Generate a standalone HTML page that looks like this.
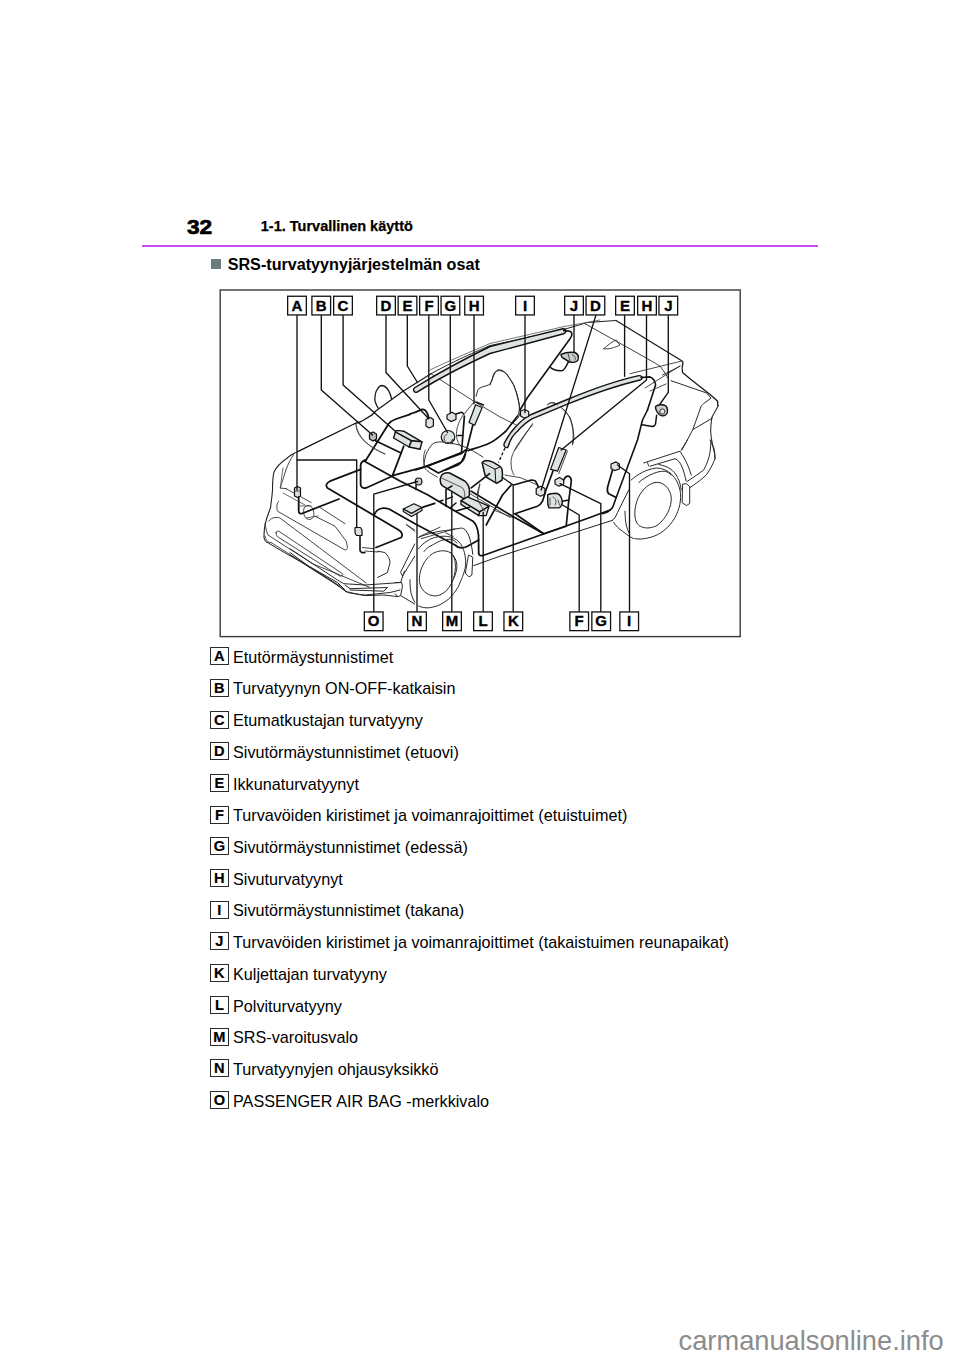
<!DOCTYPE html>
<html><head><meta charset="utf-8"><style>
html,body{margin:0;padding:0;background:#fff;}
body{width:960px;height:1358px;position:relative;overflow:hidden;font-family:"Liberation Sans",sans-serif;color:#000;}
.a{position:absolute;white-space:nowrap;}
.lb{position:absolute;left:210.2px;width:16.4px;height:16px;border:1.1px solid #2a2a2a;font-weight:bold;font-size:14.6px;line-height:17.9px;text-align:center;-webkit-text-stroke:0.2px #000;}
.it{position:absolute;left:233px;font-size:16.2px;line-height:20px;white-space:nowrap;}
</style></head><body>
<div class="a" style="left:187px;top:215px;font-weight:bold;font-size:21px;line-height:24px;transform:scaleX(1.08);transform-origin:0 0;-webkit-text-stroke:0.7px #000;">32</div>
<div class="a" style="left:260.8px;top:216.5px;font-weight:bold;font-size:14.5px;line-height:18px;-webkit-text-stroke:0.25px #000;">1-1. Turvallinen käyttö</div>
<div class="a" style="left:142px;top:244.5px;width:676px;height:2.2px;background:#c44cfb;"></div>
<div class="a" style="left:210.7px;top:258.6px;width:10.4px;height:10.2px;background:#6b7d7c;"></div>
<div class="a" style="left:227.7px;top:253.5px;font-weight:bold;font-size:16.15px;line-height:20px;">SRS-turvatyynyjärjestelmän osat</div>
<svg class="a" style="left:0;top:0" width="960" height="1358" viewBox="0 0 960 1358">
<rect x="220.2" y="290" width="520" height="346.6" fill="none" stroke="#3a3a3a" stroke-width="1.4"/>
<path d="M298.7,451.2 L355,423.5" fill="none" stroke="#111" stroke-width="1.35" stroke-linejoin="round" stroke-linecap="round"/>
<path d="M298.7,451.2 C294,453 289,456 286,459 C280,463 276,468 274,472 C272.5,478 272.5,485 272.5,490 C272,497 271,503 270.6,507.5 C269,512 267,517 266,521 C264.5,526 264,532 264,537.5 C264.5,540 266,542 267.5,542.5" fill="none" stroke="#222" stroke-width="1.1" stroke-linejoin="round" stroke-linecap="round"/>
<path d="M294.4,453 C290,460 286,468 284,476 C282,482 281,486 280,488 L286.5,488.7" fill="none" stroke="#333" stroke-width="0.9" stroke-linejoin="round" stroke-linecap="round"/>
<path d="M283,468 C282,474 281,482 280.5,488" fill="none" stroke="#444" stroke-width="0.8" stroke-linejoin="round" stroke-linecap="round"/>
<path d="M286,488.7 L311.2,502.5" fill="none" stroke="#333" stroke-width="0.9" stroke-linejoin="round" stroke-linecap="round"/>
<path d="M283,493 L305,505" fill="none" stroke="#444" stroke-width="0.8" stroke-linejoin="round" stroke-linecap="round"/>
<path d="M267.5,542.5 C280,550 290,556 300,561.2 L337.5,582.5 L345,590" fill="none" stroke="#222" stroke-width="1.0" stroke-linejoin="round" stroke-linecap="round"/>
<path d="M265,536 C266,540 268,543 271,542.5 L340,586" fill="none" stroke="#333" stroke-width="0.9" stroke-linejoin="round" stroke-linecap="round"/>
<path d="M265,523.7 C266,529 267,533 268,535 L312.5,563.7 L370,587.5" fill="none" stroke="#333" stroke-width="0.9" stroke-linejoin="round" stroke-linecap="round"/>
<path d="M268.7,521 C270,519 273,517.5 275,517.5 C278,517.5 279,517.5 280,518 L366.2,583" fill="none" stroke="#333" stroke-width="0.9" stroke-linejoin="round" stroke-linecap="round"/>
<path d="M276.2,532.5 C276,535 277,537 278.7,537.5 L340,576.2 C342,576 343,575 342.5,573.7 L278.7,531.2 C277,531 276.2,531.5 276.2,532.5 Z" fill="none" stroke="#333" stroke-width="0.9" stroke-linejoin="round" stroke-linecap="round"/>
<path d="M278.7,501.2 C277,503 276.9,505 276.9,506.2 C277,509 277,510.5 277.5,511.2 L345,550 C346.5,550 347.5,549 347.5,547.5 L346.2,541.2 L335,526.2 L315,516.2" fill="none" stroke="#333" stroke-width="0.9" stroke-linejoin="round" stroke-linecap="round"/>
<path d="M320,507.5 L345,523.7" fill="none" stroke="#333" stroke-width="0.9" stroke-linejoin="round" stroke-linecap="round"/>
<path d="M303.7,512.5 A5,6 -20 1,0 313.7,512.5 A5,6 -20 1,0 303.7,512.5 Z" fill="none" stroke="#333" stroke-width="0.9" stroke-linejoin="round" stroke-linecap="round"/>
<path d="M300,506 L311,506 M306,518 L318,516" fill="none" stroke="#444" stroke-width="0.8" stroke-linejoin="round" stroke-linecap="round"/>
<path d="M294.5,488 L297.5,486.5 L300.5,488 L300.5,496 L297.5,497.5 L294.5,496 Z" fill="#ddd" stroke="#111" stroke-width="1.2" stroke-linejoin="round" stroke-linecap="round"/>
<path d="M295,491 L300,491" fill="none" stroke="#333" stroke-width="0.8" stroke-linejoin="round" stroke-linecap="round"/>
<path d="M298.7,497.5 L298.7,511 C298.7,513 300,514 302,513.5 L339,499" fill="none" stroke="#111" stroke-width="1.8" stroke-linejoin="round" stroke-linecap="round"/>
<path d="M355,527.5 L360.5,527.5 L362,530 L362,535.5 L356.5,535.5 L355,533 Z" fill="#ddd" stroke="#111" stroke-width="1.2" stroke-linejoin="round" stroke-linecap="round"/>
<path d="M360,536 L360,550 C360,552 362,553 365,552.5" fill="none" stroke="#111" stroke-width="1.6" stroke-linejoin="round" stroke-linecap="round"/>
<path d="M365,551 L378,552" fill="none" stroke="#333" stroke-width="0.9" stroke-linejoin="round" stroke-linecap="round"/>
<path d="M360.6,469.4 L330,481.2 C326,483 325.5,486 327.5,488 L398.7,530 C402,532 403,535 401.2,537.5 L376,547.5" fill="none" stroke="#111" stroke-width="1.8" stroke-linejoin="round" stroke-linecap="round"/>
<path d="M374.5,514 C376,511 379,508.5 383,508.1 C385,508 387,508.3 389,509 L415,523.7 L455,545 C458,548 462,549 467.5,546.2 L478.7,540" fill="none" stroke="#111" stroke-width="1.8" stroke-linejoin="round" stroke-linecap="round"/>
<path d="M356,425 C358,437 368,447 385,454" fill="none" stroke="#444" stroke-width="0.9" stroke-linejoin="round" stroke-linecap="round"/>
<path d="M355,423.5 L361.2,421.5 L371.7,415.2 L375.8,411 L403,391.2 L431,373.7" fill="none" stroke="#1a1a1a" stroke-width="1.35" stroke-linejoin="round" stroke-linecap="round"/>
<path d="M431,373.7 L473.7,401.2 L500,416.9 L516.2,425" fill="none" stroke="#333" stroke-width="0.9" stroke-linejoin="round" stroke-linecap="round"/>
<path d="M378,408 C376,404 374.8,402 374.8,399.6 C375,395 375.5,392 376.9,390.2 C378.5,387 380,385.5 382,385.5 C385,386 387,388 388.3,390.2 C390,393 391,396 391.5,398.5" fill="none" stroke="#1a1a1a" stroke-width="1.3" stroke-linejoin="round" stroke-linecap="round"/>
<path d="M431,373.7 C460,358 480,350 490,345.6 L562,330 L587.5,322.5 L616,320.5" fill="none" stroke="#222" stroke-width="1.0" stroke-linejoin="round" stroke-linecap="round"/>
<path d="M430,370 C455,358 475,350 490,343.5 L562,327 L600,320" fill="none" stroke="#555" stroke-width="0.8" stroke-linejoin="round" stroke-linecap="round"/>
<path d="M417.5,391.9 C430,384 450,372 490,353.5 L563.7,333.7 C566.5,333 567,329 563,328.7 L490,346.5 C452,365 432,377 415,387.5 C412,389.5 414.5,393.5 417.5,391.9 Z" fill="#dde2e2" stroke="#111" stroke-width="1.4" stroke-linejoin="round" stroke-linecap="round"/>
<path d="M563.7,330.6 L570,331.2 C572,332 573,335 570,338.7 L527.5,397.5 L520,410" fill="none" stroke="#111" stroke-width="1.6" stroke-linejoin="round" stroke-linecap="round"/>
<path d="M550,367 C553,370 556,371 562.5,370.6 C565,369 567,365 568.7,361.2" fill="none" stroke="#111" stroke-width="1.5" stroke-linejoin="round" stroke-linecap="round"/>
<path d="M561,354.5 C565,352.5 570,352 575,352.5 C578,354 579,357 578,360 C577,362 573,363 570,362 C567,361 565,359 563,358 C561.5,357.5 561,356 561,354.5 Z" fill="#c8cccc" stroke="#111" stroke-width="1.4" stroke-linejoin="round" stroke-linecap="round"/>
<path d="M568,353.5 L570,361 M572.5,355 C575,356 576,358 575,360" fill="none" stroke="#333" stroke-width="0.8" stroke-linejoin="round" stroke-linecap="round"/>
<path d="M490,385 C493,377 495,371 497.5,370 C500,369 504,371 506.2,373.7 C510,379 514,384 515,388.7 C518,395 519,403 520,410 C521,414 518,420 510,425" fill="none" stroke="#222" stroke-width="1.0" stroke-linejoin="round" stroke-linecap="round"/>
<path d="M508,447 C510,440 514,434 517.5,431.2 C524,424 530,420 532.5,418.7 L568.7,403.7 C590,395 615,386 640,380 C643,379.5 643,375.5 639,375.6 C614,381 590,390 566,400 L530,415 C523,419 519,423 515,427.5 C509,434 506,440 504.4,443 C503,446 506,449 508,447 Z" fill="#dde2e2" stroke="#111" stroke-width="1.4" stroke-linejoin="round" stroke-linecap="round"/>
<path d="M641,377.5 L650,376.9 C653,378 655,381 655.6,385 L647.5,410" fill="none" stroke="#111" stroke-width="1.6" stroke-linejoin="round" stroke-linecap="round"/>
<path d="M616,320.5 L682.5,361.2 L683,362.5 C682,366 682,370 682.5,372.5 L690,378.7 L711,395.3 L717.7,401.2 L717.7,405.5" fill="none" stroke="#1a1a1a" stroke-width="1.3" stroke-linejoin="round" stroke-linecap="round"/>
<path d="M630,373.7 L681.2,361.2" fill="none" stroke="#333" stroke-width="0.9" stroke-linejoin="round" stroke-linecap="round"/>
<path d="M645,388 L680,366" fill="none" stroke="#333" stroke-width="0.9" stroke-linejoin="round" stroke-linecap="round"/>
<path d="M650,391 L666,384" fill="none" stroke="#333" stroke-width="0.9" stroke-linejoin="round" stroke-linecap="round"/>
<path d="M603.7,348.7 C608,345 613,341 616.2,340 C618,341 617.5,343 620,345 C614,348 608,349.5 603.7,348.7 Z" fill="none" stroke="#333" stroke-width="0.9" stroke-linejoin="round" stroke-linecap="round"/>
<path d="M547.5,405 C549,403 552,402 555,403.7" fill="none" stroke="#333" stroke-width="0.9" stroke-linejoin="round" stroke-linecap="round"/>
<path d="M655.5,406.5 C658,404.5 663,404 666,406 C667.5,408 667.8,411 667,413.5 C665.5,416 662,416.5 660,415 C657.5,413 655.5,409 655.5,406.5 Z" fill="#c8cccc" stroke="#111" stroke-width="1.4" stroke-linejoin="round" stroke-linecap="round"/>
<path d="M662.3,411.5 m-2.6,0 a2.6,2.6 0 1,0 5.2,0 a2.6,2.6 0 1,0 -5.2,0" fill="#e8e8e8" stroke="#222" stroke-width="0.9" stroke-linejoin="round" stroke-linecap="round"/>
<path d="M656.6,415.3 L655.5,424.2 C655,425.5 653.5,426.4 652,426.4 L642.2,424.7" fill="none" stroke="#111" stroke-width="1.5" stroke-linejoin="round" stroke-linecap="round"/>
<path d="M410,414.4 L396,419 C392,420.5 390,422 388.7,423.7 L366,460" fill="none" stroke="#111" stroke-width="1.8" stroke-linejoin="round" stroke-linecap="round"/>
<path d="M366,460 C363.5,460.5 360.8,462.5 360.6,465.5 L360.6,484.5 C361,487.5 363,488.5 366,488 L392.5,476" fill="none" stroke="#111" stroke-width="1.8" stroke-linejoin="round" stroke-linecap="round"/>
<path d="M392.5,475.6 L424.4,466.9 L461,453.7 L465.6,450" fill="none" stroke="#111" stroke-width="1.8" stroke-linejoin="round" stroke-linecap="round"/>
<path d="M364,461 L400,481 L428,495 L458,512.8 L473,521.2 C477,525 478,530 478.5,535 L478.7,553.7 C479,555.5 480.5,556 483,555.5" fill="none" stroke="#111" stroke-width="1.8" stroke-linejoin="round" stroke-linecap="round"/>
<path d="M403.7,446.2 L392.5,475.6" fill="none" stroke="#111" stroke-width="1.8" stroke-linejoin="round" stroke-linecap="round"/>
<path d="M374,440 L401,453" fill="none" stroke="#111" stroke-width="1.8" stroke-linejoin="round" stroke-linecap="round"/>
<path d="M369.5,434 L373,432 L376.5,434 L376.5,439 L373,441 L369.5,439 Z" fill="#bbb" stroke="#111" stroke-width="1.3" stroke-linejoin="round" stroke-linecap="round"/>
<path d="M396.2,430.7 C399,430.5 401.5,430.6 403.7,431.2 L422,441.9 L411.6,440.8 L395.4,432 Z" fill="#dde2e2" stroke="#111" stroke-width="1.4" stroke-linejoin="round" stroke-linecap="round"/>
<path d="M395.4,432 L393.6,438 L409,447 L411.6,440.8 Z" fill="#dde2e2" stroke="#111" stroke-width="1.4" stroke-linejoin="round" stroke-linecap="round"/>
<path d="M411.6,440.8 L422,441.9 L420,449.2 L409,447 Z" fill="#dde2e2" stroke="#111" stroke-width="1.4" stroke-linejoin="round" stroke-linecap="round"/>
<path d="M356,424 C356,435 365,445 385,454" fill="none" stroke="#444" stroke-width="0.9" stroke-linejoin="round" stroke-linecap="round"/>
<path d="M403.3,509 L414,503.7 L422,507.5 L411.5,513.5 Z" fill="#dde2e2" stroke="#111" stroke-width="1.2" stroke-linejoin="round" stroke-linecap="round"/>
<path d="M403.3,509 L403.3,511.5 L411.5,516.5 L422,510.5 L422,507.5 L411.5,513.5 Z" fill="#dde2e2" stroke="#111" stroke-width="1.2" stroke-linejoin="round" stroke-linecap="round"/>
<path d="M423,507.2 L434.7,503.4" fill="none" stroke="#111" stroke-width="1.8" stroke-linejoin="round" stroke-linecap="round"/>
<path d="M406.7,525 L415,531.7" fill="none" stroke="#444" stroke-width="0.9" stroke-linejoin="round" stroke-linecap="round"/>
<path d="M418.6,481.5 m-3.3,0 a3.3,3.5 0 1,0 6.6,0 a3.3,3.5 0 1,0 -6.6,0" fill="#ccc" stroke="#111" stroke-width="1.2" stroke-linejoin="round" stroke-linecap="round"/>
<path d="M416,485 L416,489.4" fill="none" stroke="#111" stroke-width="1.5" stroke-linejoin="round" stroke-linecap="round"/>
<path d="M410,414 L415.6,412.2 L422.2,409.4 C425,409 427,410.5 428.7,417.8" fill="none" stroke="#111" stroke-width="1.8" stroke-linejoin="round" stroke-linecap="round"/>
<path d="M426,419.5 L430.5,417.5 L433.4,419.5 L433.4,426 L429,428 L426,426 Z" fill="#dde2e2" stroke="#111" stroke-width="1.2" stroke-linejoin="round" stroke-linecap="round"/>
<path d="M447,415 L452,412.2 L456,414.5 L456,419.5 L451,421.6 L447,419 Z" fill="#dde2e2" stroke="#111" stroke-width="1.2" stroke-linejoin="round" stroke-linecap="round"/>
<path d="M456,414 L461.5,412.2 C463,412.5 463.4,413.5 463.4,414" fill="none" stroke="#111" stroke-width="1.5" stroke-linejoin="round" stroke-linecap="round"/>
<path d="M448,437 m-6.8,0 a6.8,6.5 0 1,0 13.6,0 a6.8,6.5 0 1,0 -13.6,0" fill="#dde2e2" stroke="#111" stroke-width="1.2" stroke-linejoin="round" stroke-linecap="round"/>
<path d="M445,441 C443,438 444,435 447,434.5 M450,443 L453,439 L452,444" fill="none" stroke="#333" stroke-width="0.9" stroke-linejoin="round" stroke-linecap="round"/>
<path d="M474.7,401 L462.5,416 C458,423 456,430 456.5,436 C457,441 459,445 461.5,446.9" fill="none" stroke="#333" stroke-width="0.9" stroke-linejoin="round" stroke-linecap="round"/>
<path d="M464.4,416 L461.5,452.5 L428.7,465.6 L415.6,470" fill="none" stroke="#111" stroke-width="1.7" stroke-linejoin="round" stroke-linecap="round"/>
<path d="M457.8,435.6 L462.5,435.6" fill="none" stroke="#111" stroke-width="1.5" stroke-linejoin="round" stroke-linecap="round"/>
<path d="M475.6,404.7 L482.2,407.5 L474.7,425.3 L469,422.5 Z" fill="#dde2e2" stroke="#111" stroke-width="1.2" stroke-linejoin="round" stroke-linecap="round"/>
<path d="M476,402 L483.5,405" fill="none" stroke="#111" stroke-width="1.4" stroke-linejoin="round" stroke-linecap="round"/>
<path d="M472.8,425.3 L466.2,451.5 L463.4,458 C462,461.5 460.6,463.7 458,465 L445.6,470" fill="none" stroke="#111" stroke-width="1.7" stroke-linejoin="round" stroke-linecap="round"/>
<path d="M424,465.6 C424,458 427,450 432.5,444 C437,441 442,442 447.5,442.6 C453,443.5 458,444.5 462.5,446 C470,449 477,453 483,457.2" fill="none" stroke="#333" stroke-width="1.0" stroke-linejoin="round" stroke-linecap="round"/>
<path d="M468,450.6 C476,448 484,446 489.7,443 C496,440 500,436 506,431 L517.5,416" fill="none" stroke="#111" stroke-width="1.7" stroke-linejoin="round" stroke-linecap="round"/>
<path d="M427.2,466.4 L438.4,473 L461,462.2 C463,461 464.5,459 465.3,454.4" fill="none" stroke="#111" stroke-width="1.7" stroke-linejoin="round" stroke-linecap="round"/>
<path d="M425.3,450 C423,455 423,462 425.3,468.7 C427,471 429,472 431,473.4 L437.5,477.2" fill="none" stroke="#333" stroke-width="0.9" stroke-linejoin="round" stroke-linecap="round"/>
<path d="M440.3,481 C440,478 441.5,474 444,473.4 C446,472.5 448,472.5 449.7,473 L464.7,481 C467,483 469,486 469.4,489.4 L469.4,495 C469,497.5 466,499 463.7,498.7 L442.2,485.6 C441,484.5 440.3,483 440.3,481 Z" fill="#dde2e2" stroke="#111" stroke-width="1.5" stroke-linejoin="round" stroke-linecap="round"/>
<path d="M441.5,478 L462,487.5 C464,489 465,492 464.7,498" fill="none" stroke="#333" stroke-width="0.8" stroke-linejoin="round" stroke-linecap="round"/>
<path d="M446,489.4 L446,506.2 M446,489.4 L452,486" fill="none" stroke="#111" stroke-width="1.6" stroke-linejoin="round" stroke-linecap="round"/>
<path d="M439.4,501.5 L443,500.2 M447,498.9 L452.5,496.9 M456,503 L450,508" fill="none" stroke="#111" stroke-width="1.5" stroke-linejoin="round" stroke-linecap="round"/>
<path d="M461,500.6 L467.5,496.9 L489,506.2 L479.7,511.9 Z" fill="#dde2e2" stroke="#111" stroke-width="1.3" stroke-linejoin="round" stroke-linecap="round"/>
<path d="M461,500.6 L461,504.4 L478.7,515.6 L479.7,511.9 Z" fill="#dde2e2" stroke="#111" stroke-width="1.3" stroke-linejoin="round" stroke-linecap="round"/>
<path d="M479.7,511.9 L489,506.2 L486.2,515.6 L478.7,515.6 Z" fill="#dde2e2" stroke="#111" stroke-width="1.3" stroke-linejoin="round" stroke-linecap="round"/>
<path d="M456.2,511 L469.4,507.2" fill="none" stroke="#111" stroke-width="1.7" stroke-linejoin="round" stroke-linecap="round"/>
<path d="M482.1,462.5 C483.5,461 485,460.4 486.7,460.4 C489,460.6 491,461.3 492.9,462.1 L499.2,465.8 C501,467 502,468.5 502.1,469.6 L502.5,474.2 L502.1,480 L496.7,483.3 L487.5,477.9 L485,475 Z" fill="#dde2e2" stroke="#111" stroke-width="1.5" stroke-linejoin="round" stroke-linecap="round"/>
<path d="M482.9,462.9 L495,469.2 L499.5,467.2 M495,469.2 L495.8,482.5" fill="none" stroke="#111" stroke-width="1.0" stroke-linejoin="round" stroke-linecap="round"/>
<path d="M471.2,487.9 L489.6,473.7" fill="none" stroke="#111" stroke-width="1.7" stroke-linejoin="round" stroke-linecap="round"/>
<path d="M471.2,491.2 L512.5,516.2 L543.7,533.7" fill="none" stroke="#111" stroke-width="1.7" stroke-linejoin="round" stroke-linecap="round"/>
<path d="M470,493.7 L510,517.5" fill="none" stroke="#333" stroke-width="0.9" stroke-linejoin="round" stroke-linecap="round"/>
<path d="M477.8,496.9 L479.7,483.7" fill="none" stroke="#333" stroke-width="0.9" stroke-linejoin="round" stroke-linecap="round"/>
<path d="M486.2,525 L502.5,495 L511.2,485" fill="none" stroke="#111" stroke-width="1.7" stroke-linejoin="round" stroke-linecap="round"/>
<path d="M493.7,510 L512.5,517.5" fill="none" stroke="#333" stroke-width="0.9" stroke-linejoin="round" stroke-linecap="round"/>
<path d="M480,485 C477,490 477,496 478,500 C480,505 483,509 485,511" fill="none" stroke="#333" stroke-width="0.9" stroke-linejoin="round" stroke-linecap="round"/>
<path d="M513.7,485 L531.2,480 C534,480 536,481 536.2,482.5 L538.7,487.5" fill="none" stroke="#111" stroke-width="1.7" stroke-linejoin="round" stroke-linecap="round"/>
<path d="M536.2,488.5 L541,486.2 L545,488.5 L545,494 L540.5,496.2 L536.2,494 Z" fill="#dde2e2" stroke="#111" stroke-width="1.2" stroke-linejoin="round" stroke-linecap="round"/>
<path d="M553,471 L546,490 L542.5,501.2 C541,504 539.5,505.5 537.5,506.2 L515,513.7" fill="none" stroke="#111" stroke-width="1.7" stroke-linejoin="round" stroke-linecap="round"/>
<path d="M505,475 C510,476 516,477 520,477.5 L537.5,485" fill="none" stroke="#333" stroke-width="0.9" stroke-linejoin="round" stroke-linecap="round"/>
<path d="M532.5,425 C526,432 521,440 517.5,445 C513,452 511,458 511,462 C511,468 512,472 514,475" fill="none" stroke="#333" stroke-width="0.9" stroke-linejoin="round" stroke-linecap="round"/>
<path d="M561,407.5 C566,411 570,416 572,425 C573.5,432 573.5,438 572.5,443.7" fill="none" stroke="#333" stroke-width="0.9" stroke-linejoin="round" stroke-linecap="round"/>
<path d="M505,448 L498.5,462.5" fill="none" stroke="#111" stroke-width="1.3" stroke-dasharray="3 2"/>
<path d="M520.5,411 L525,409.5 L528.7,411.5 L528.7,416.5 L524,418 L520.5,416 Z" fill="#dde2e2" stroke="#111" stroke-width="1.2" stroke-linejoin="round" stroke-linecap="round"/>
<path d="M558.7,447.5 L566.2,450 L557.5,471.2 L550.6,469.4 Z" fill="#dde2e2" stroke="#111" stroke-width="1.2" stroke-linejoin="round" stroke-linecap="round"/>
<path d="M567.5,451 L558.7,473.7" fill="none" stroke="#333" stroke-width="0.9" stroke-linejoin="round" stroke-linecap="round"/>
<path d="M555,480 L559.5,477.5 L563.7,480 L563.7,484 L559,486.2 L555,484 Z" fill="#dde2e2" stroke="#111" stroke-width="1.2" stroke-linejoin="round" stroke-linecap="round"/>
<path d="M563.7,480 C565,477 567.5,476 568.7,476.2 C571,477 571.5,479 571.2,482 L568.7,501.2 L566.2,526.2" fill="none" stroke="#111" stroke-width="1.7" stroke-linejoin="round" stroke-linecap="round"/>
<path d="M547.7,494.8 C549,494.2 552,493.6 556,493.3 C558,493.5 560,495 561,497 C562,499 562.5,501 562.3,503 L561.2,505.8 C560.5,507.2 559,508 558,507.9 L549,507.9 C548,506 547.5,504 547.7,501 Z" fill="#dde2e2" stroke="#111" stroke-width="1.4" stroke-linejoin="round" stroke-linecap="round"/>
<path d="M550,498 L550,505 M553,497 C556,498 557,502 555,505 M558,500 L559.5,505" fill="none" stroke="#333" stroke-width="0.8" stroke-linejoin="round" stroke-linecap="round"/>
<path d="M562.5,501.2 L568.7,500" fill="none" stroke="#111" stroke-width="1.5" stroke-linejoin="round" stroke-linecap="round"/>
<path d="M515,513.7 L543.7,533.7 M543.7,533.7 L566.2,526.2" fill="none" stroke="#111" stroke-width="1.7" stroke-linejoin="round" stroke-linecap="round"/>
<path d="M483,555.5 L590,517.5 L610,510" fill="none" stroke="#111" stroke-width="1.7" stroke-linejoin="round" stroke-linecap="round"/>
<path d="M473.7,565.6 L500,556.2 L612.3,520.4" fill="none" stroke="#222" stroke-width="1.0" stroke-linejoin="round" stroke-linecap="round"/>
<path d="M647.5,410 L642.5,420 L637.5,440 L616.2,497.5 C614.5,502 613.5,506 612.5,507.5 C610,511 606,513 602.5,513.7" fill="none" stroke="#111" stroke-width="1.6" stroke-linejoin="round" stroke-linecap="round"/>
<path d="M628.7,490 L617.5,512.5 C616,516 614.5,519 612.3,520.4" fill="none" stroke="#222" stroke-width="1.0" stroke-linejoin="round" stroke-linecap="round"/>
<path d="M611,464 L616,461.9 L619.4,464 L619.4,469 L614.5,470.6 L611,468.5 Z" fill="#dde2e2" stroke="#111" stroke-width="1.2" stroke-linejoin="round" stroke-linecap="round"/>
<path d="M612.5,470 L607.5,487.5 C607,491 608,493 608.7,493.7 L616.2,497.5" fill="none" stroke="#111" stroke-width="1.7" stroke-linejoin="round" stroke-linecap="round"/>
<path d="M418.4,548.7 C421,545 428,539.5 434.4,537.5 C440,536 445,536 447.5,536.5 C452,537 456,539 459,542 C462,545 464.5,551 465.3,557.2 C466,563 465.5,568 464.4,571.2 C462,579 459,584 458.7,586.2 C455,592 452,596 449.4,598.4 C445,602 441,604.5 437.2,605.9 C432,607.5 429,608 425.9,607.8 C422,607.5 420,606.7 418.4,605.9" fill="none" stroke="#2a2a2a" stroke-width="1.0" stroke-linejoin="round" stroke-linecap="round"/>
<path d="M418.4,537.5 C423,535.5 428,534 432.5,532.8 C438,531.3 444,530.6 450.3,530 C454,529.5 457,528.5 460.6,528.1 C463,528 465,529 466.2,531 C469,535 470,539 470.9,543.1 C471.8,547 472.5,551 472.8,554.4" fill="none" stroke="#2a2a2a" stroke-width="1.0" stroke-linejoin="round" stroke-linecap="round"/>
<path d="M424,551.5 C426,548.5 429,546.5 432.5,545 C436,542.8 439,541.3 441.9,540.3 C445,539.5 448,539.2 451.2,539.4 C453.5,540 455.5,541.3 456.9,543.1" fill="none" stroke="#2a2a2a" stroke-width="1.0" stroke-linejoin="round" stroke-linecap="round"/>
<path d="M436.8,573 m-0,0" fill="none" stroke="#2a2a2a" stroke-width="1" stroke-linejoin="round" stroke-linecap="round"/>
<path d="M451,553 C456,557 457,568 453,580 C449,591 440,597.5 432.5,595.6 C424,594 419,587 419.4,578.7 C419.5,570 424,561 430,555.5 C436,550.5 445,549 451,553 Z" fill="none" stroke="#2a2a2a" stroke-width="1.0" stroke-linejoin="round" stroke-linecap="round"/>
<path d="M453.1,555.3 C455.5,558.5 456.9,562 456.9,565.6 C457,570 455.5,574.5 454,577.8" fill="none" stroke="#2a2a2a" stroke-width="1.0" stroke-linejoin="round" stroke-linecap="round"/>
<path d="M410,579.7 C410,585 410.3,589 411,592.8 C412,596.5 413,599.5 414.7,602.2" fill="none" stroke="#2a2a2a" stroke-width="1.0" stroke-linejoin="round" stroke-linecap="round"/>
<path d="M469,555.3 L472.8,557.2 L471.9,575 L469,576.9 L465.3,573.1 L468.1,557.2 Z" fill="#fff" stroke="#2a2a2a" stroke-width="1.0" stroke-linejoin="round" stroke-linecap="round"/>
<path d="M414.7,544 L400.6,572.2 L402.5,576 L414.7,556.2" fill="none" stroke="#2a2a2a" stroke-width="1.0" stroke-linejoin="round" stroke-linecap="round"/>
<path d="M395,582.5 L401.6,582.5 L402.5,586.2 L400.6,595.6 L397.8,596.6 L395,593.7" fill="none" stroke="#2a2a2a" stroke-width="1.0" stroke-linejoin="round" stroke-linecap="round"/>
<path d="M400.6,595.6 L414.7,604" fill="none" stroke="#2a2a2a" stroke-width="1.0" stroke-linejoin="round" stroke-linecap="round"/>
<path d="M404.4,571.2 L400.6,582.5" fill="none" stroke="#2a2a2a" stroke-width="1.0" stroke-linejoin="round" stroke-linecap="round"/>
<path d="M406.2,524.4 L414.7,530" fill="none" stroke="#2a2a2a" stroke-width="0.9" stroke-linejoin="round" stroke-linecap="round"/>
<path d="M419.4,536.6 L440,527.2" fill="none" stroke="#2a2a2a" stroke-width="0.9" stroke-linejoin="round" stroke-linecap="round"/>
<path d="M445.6,532.8 L453.1,536.5" fill="none" stroke="#2a2a2a" stroke-width="0.9" stroke-linejoin="round" stroke-linecap="round"/>
<path d="M421.2,538.7 L455,528.7" fill="none" stroke="#2a2a2a" stroke-width="0.9" stroke-linejoin="round" stroke-linecap="round"/>
<path d="M377.5,551.2 L385,552.5 C388,556 390,559 390,562.5 L387.5,572.5 L377.5,577.5" fill="none" stroke="#2a2a2a" stroke-width="1.0" stroke-linejoin="round" stroke-linecap="round"/>
<path d="M362.5,547.5 L373.7,548.7" fill="none" stroke="#2a2a2a" stroke-width="0.9" stroke-linejoin="round" stroke-linecap="round"/>
<path d="M290,552.5 L308.7,566.2 L333.7,582.5 L342.5,588.7 L345,591.2 C352,593 358,594.5 365,595 L390,592.5 L400,590" fill="none" stroke="#2a2a2a" stroke-width="1.0" stroke-linejoin="round" stroke-linecap="round"/>
<path d="M290,555 L335,583.7 L347.5,592.5 L365,595.6 L383.7,595 L397.8,596.6" fill="none" stroke="#2a2a2a" stroke-width="1.0" stroke-linejoin="round" stroke-linecap="round"/>
<path d="M290,548.7 L337.5,580 L343.7,583.7 L365,585 L401.2,582.5" fill="none" stroke="#2a2a2a" stroke-width="1.0" stroke-linejoin="round" stroke-linecap="round"/>
<path d="M345,585 L350,588.7 L387.5,587.5 L383.7,591.2 L350,590" fill="none" stroke="#2a2a2a" stroke-width="1.0" stroke-linejoin="round" stroke-linecap="round"/>
<path d="M476.2,396.2 C477,392 478,389.5 478.7,388.7 C482,386.5 486,386 488.7,385 C491,383 492,380.5 492.5,378.7 C493,375 494,372.5 495,372.5 C497,370.5 499,370.5 500,370.6 C503,371 506,373 507.5,375 C510,379 512,382 513.7,385 C515.5,390 517,394 517.5,397.5 C518.5,401 519.4,405 519.4,407.5" fill="none" stroke="#2a2a2a" stroke-width="1.0" stroke-linejoin="round" stroke-linecap="round"/>
<path d="M519.4,407.5 C519.5,411 518.5,414 517.5,416.2" fill="none" stroke="#2a2a2a" stroke-width="1.0" stroke-linejoin="round" stroke-linecap="round"/>
<path d="M532.5,423.7 L515,450" fill="none" stroke="#2a2a2a" stroke-width="0.9" stroke-linejoin="round" stroke-linecap="round"/>
<path d="M547.5,405 C549,403 551,402.5 552.5,402.5 C554.5,402.5 556,403.5 557.5,405" fill="none" stroke="#2a2a2a" stroke-width="0.9" stroke-linejoin="round" stroke-linecap="round"/>
<path d="M562.5,408.7 C566,412 568,415 570,417.5 C572,423 573.5,429 573.7,435 C574,439 573.5,442 572.5,445" fill="none" stroke="#2a2a2a" stroke-width="0.9" stroke-linejoin="round" stroke-linecap="round"/>
<path d="M643.7,463 L680,451.2 C684,457 688,465 690,471.2 L691.2,475" fill="none" stroke="#2a2a2a" stroke-width="1.0" stroke-linejoin="round" stroke-linecap="round"/>
<path d="M647.5,462.5 L648.7,466" fill="none" stroke="#2a2a2a" stroke-width="0.9" stroke-linejoin="round" stroke-linecap="round"/>
<path d="M650,466.2 L675,458.7 C678,460 680,462.5 681.2,465 C683.5,470 685,476 686.2,481.2" fill="none" stroke="#2a2a2a" stroke-width="1.0" stroke-linejoin="round" stroke-linecap="round"/>
<path d="M658.7,464.4 C663,465.5 667,466.5 670,468.7 C673.5,471 676,474 677.5,477.5 C679.5,481 680.7,485.5 681.2,490" fill="none" stroke="#2a2a2a" stroke-width="1.0" stroke-linejoin="round" stroke-linecap="round"/>
<path d="M631.2,480 C638,474 646,469.5 656.2,468 C668,468 677,477 680,490 C682,500 679,510 675,517.5 C669,528 660,535 650,537.5 C644,539 639,539.5 635,538.7" fill="none" stroke="#2a2a2a" stroke-width="1.0" stroke-linejoin="round" stroke-linecap="round"/>
<path d="M613.7,522.5 C616,526 619,529 622.5,531.2 C626,534 630,537 633.7,538.7" fill="none" stroke="#2a2a2a" stroke-width="1.0" stroke-linejoin="round" stroke-linecap="round"/>
<path d="M655,482.5 C663,481 670,488 671.2,497 C672,507 666,519 657,525.5 C650,529 642,529 637.5,524 C634,519 634,510 637,501 C640,492 647,484 655,482.5 Z" fill="none" stroke="#2a2a2a" stroke-width="1.0" stroke-linejoin="round" stroke-linecap="round"/>
<path d="M638.7,482.5 C642,479.5 646,477 650,475 C655,472.5 660,471 665,471.2 C667.5,472 670,473.5 671.2,475" fill="none" stroke="#2a2a2a" stroke-width="1.0" stroke-linejoin="round" stroke-linecap="round"/>
<path d="M625,511.2 C625,516 625.5,521 626.2,525 C627,528 628,530.5 628.7,532.5" fill="none" stroke="#2a2a2a" stroke-width="1.0" stroke-linejoin="round" stroke-linecap="round"/>
<path d="M683,484 L686.5,483.7 L689.7,486.5 L689.7,503.5 L686.5,505.5 L682.5,503 Z" fill="#fff" stroke="#2a2a2a" stroke-width="1.0" stroke-linejoin="round" stroke-linecap="round"/>
<path d="M690,487.5 C697,483 702,479 706.2,475 C710,470 713,464 715,458.7 C715,454 714.5,450 713.7,447.5 L710,440" fill="none" stroke="#2a2a2a" stroke-width="1.0" stroke-linejoin="round" stroke-linecap="round"/>
<path d="M687.5,481.2 C694,477 699,473.5 703.7,470 C707,464 709,458 710,452.5 L711.2,440" fill="none" stroke="#2a2a2a" stroke-width="1.0" stroke-linejoin="round" stroke-linecap="round"/>
<path d="M681.2,450 L687.5,440" fill="none" stroke="#2a2a2a" stroke-width="1.0" stroke-linejoin="round" stroke-linecap="round"/>
<path d="M718.4,405.4 L711.8,417.5 C711,425 710.5,428 710.7,432 C711,438 712,442 712.9,446.3 C714,450 715,454 715,458.7" fill="none" stroke="#2a2a2a" stroke-width="1.1" stroke-linejoin="round" stroke-linecap="round"/>
<path d="M671,380.7 L706.7,393 L711,398.2 L703.8,403.4 C702,405 701,406 700.9,407 L692.8,429.6 L681.9,450" fill="none" stroke="#2a2a2a" stroke-width="1.0" stroke-linejoin="round" stroke-linecap="round"/>
<path d="M692.8,429.6 L712.5,418" fill="none" stroke="#2a2a2a" stroke-width="1.0" stroke-linejoin="round" stroke-linecap="round"/>
<path d="M585,323.7 L647.5,358.7 C653,362 657,364 660,366.2 C663,370 666,374 667.5,377.5" fill="none" stroke="#2a2a2a" stroke-width="0.9" stroke-linejoin="round" stroke-linecap="round"/>
<path d="M662.5,375 L680,366.2" fill="none" stroke="#2a2a2a" stroke-width="0.9" stroke-linejoin="round" stroke-linecap="round"/>
<path d="M297,315.6 V490" fill="none" stroke="#111" stroke-width="1.35" stroke-linejoin="round" stroke-linecap="round"/>
<path d="M297,460 H356.7 V527" fill="none" stroke="#111" stroke-width="1.35" stroke-linejoin="round" stroke-linecap="round"/>
<path d="M321.3,315.6 V390 L372.5,435" fill="none" stroke="#111" stroke-width="1.35" stroke-linejoin="round" stroke-linecap="round"/>
<path d="M343.1,315.6 V385 L395,431" fill="none" stroke="#111" stroke-width="1.35" stroke-linejoin="round" stroke-linecap="round"/>
<path d="M386,315.6 V372.5 L428.7,418.7" fill="none" stroke="#111" stroke-width="1.35" stroke-linejoin="round" stroke-linecap="round"/>
<path d="M407.3,315.6 V366 L417.5,382.5" fill="none" stroke="#111" stroke-width="1.35" stroke-linejoin="round" stroke-linecap="round"/>
<path d="M428.8,315.6 V400 L447.5,432.5" fill="none" stroke="#111" stroke-width="1.35" stroke-linejoin="round" stroke-linecap="round"/>
<path d="M450.3,315.6 V412.5" fill="none" stroke="#111" stroke-width="1.35" stroke-linejoin="round" stroke-linecap="round"/>
<path d="M474,315.6 V403.7" fill="none" stroke="#111" stroke-width="1.35" stroke-linejoin="round" stroke-linecap="round"/>
<path d="M525,315.6 V412.5" fill="none" stroke="#111" stroke-width="1.35" stroke-linejoin="round" stroke-linecap="round"/>
<path d="M574,315.6 V352.5" fill="none" stroke="#111" stroke-width="1.35" stroke-linejoin="round" stroke-linecap="round"/>
<path d="M595.8,315.6 L541.2,490" fill="none" stroke="#111" stroke-width="1.35" stroke-linejoin="round" stroke-linecap="round"/>
<path d="M624.6,315.6 V376.2" fill="none" stroke="#111" stroke-width="1.35" stroke-linejoin="round" stroke-linecap="round"/>
<path d="M646.5,315.6 V380 L561.2,450" fill="none" stroke="#111" stroke-width="1.35" stroke-linejoin="round" stroke-linecap="round"/>
<path d="M668.3,315.6 V392.4 L660,404" fill="none" stroke="#111" stroke-width="1.35" stroke-linejoin="round" stroke-linecap="round"/>
<path d="M373.8,611.3 V494.2 L417.5,481.5" fill="none" stroke="#111" stroke-width="1.35" stroke-linejoin="round" stroke-linecap="round"/>
<path d="M417,611.3 V513.7" fill="none" stroke="#111" stroke-width="1.35" stroke-linejoin="round" stroke-linecap="round"/>
<path d="M451.8,611.3 V492.5" fill="none" stroke="#111" stroke-width="1.35" stroke-linejoin="round" stroke-linecap="round"/>
<path d="M483.2,611.3 V512.5" fill="none" stroke="#111" stroke-width="1.35" stroke-linejoin="round" stroke-linecap="round"/>
<path d="M513.2,611.3 V485 L502.5,477.5" fill="none" stroke="#111" stroke-width="1.35" stroke-linejoin="round" stroke-linecap="round"/>
<path d="M579.2,611.3 V515 L562.5,505" fill="none" stroke="#111" stroke-width="1.35" stroke-linejoin="round" stroke-linecap="round"/>
<path d="M600.8,611.3 V503.7 L560,483.7" fill="none" stroke="#111" stroke-width="1.35" stroke-linejoin="round" stroke-linecap="round"/>
<path d="M629.5,611.3 V473.7 L617.5,465" fill="none" stroke="#111" stroke-width="1.35" stroke-linejoin="round" stroke-linecap="round"/>
<rect x="287.65" y="296.25" width="18.7" height="18.7" fill="#fff" stroke="#111" stroke-width="1.3"/>
<text x="297" y="310.70000000000005" text-anchor="middle" font-family="Liberation Sans" font-weight="bold" font-size="15" fill="#000" stroke="#000" stroke-width="0.35">A</text>
<rect x="311.9" y="296.25" width="18.7" height="18.7" fill="#fff" stroke="#111" stroke-width="1.3"/>
<text x="321.25" y="310.70000000000005" text-anchor="middle" font-family="Liberation Sans" font-weight="bold" font-size="15" fill="#000" stroke="#000" stroke-width="0.35">B</text>
<rect x="333.65" y="296.25" width="18.7" height="18.7" fill="#fff" stroke="#111" stroke-width="1.3"/>
<text x="343" y="310.70000000000005" text-anchor="middle" font-family="Liberation Sans" font-weight="bold" font-size="15" fill="#000" stroke="#000" stroke-width="0.35">C</text>
<rect x="376.65" y="296.25" width="18.7" height="18.7" fill="#fff" stroke="#111" stroke-width="1.3"/>
<text x="386" y="310.70000000000005" text-anchor="middle" font-family="Liberation Sans" font-weight="bold" font-size="15" fill="#000" stroke="#000" stroke-width="0.35">D</text>
<rect x="398.15" y="296.25" width="18.7" height="18.7" fill="#fff" stroke="#111" stroke-width="1.3"/>
<text x="407.5" y="310.70000000000005" text-anchor="middle" font-family="Liberation Sans" font-weight="bold" font-size="15" fill="#000" stroke="#000" stroke-width="0.35">E</text>
<rect x="419.65" y="296.25" width="18.7" height="18.7" fill="#fff" stroke="#111" stroke-width="1.3"/>
<text x="429" y="310.70000000000005" text-anchor="middle" font-family="Liberation Sans" font-weight="bold" font-size="15" fill="#000" stroke="#000" stroke-width="0.35">F</text>
<rect x="441.04999999999995" y="296.25" width="18.7" height="18.7" fill="#fff" stroke="#111" stroke-width="1.3"/>
<text x="450.4" y="310.70000000000005" text-anchor="middle" font-family="Liberation Sans" font-weight="bold" font-size="15" fill="#000" stroke="#000" stroke-width="0.35">G</text>
<rect x="464.75" y="296.25" width="18.7" height="18.7" fill="#fff" stroke="#111" stroke-width="1.3"/>
<text x="474.1" y="310.70000000000005" text-anchor="middle" font-family="Liberation Sans" font-weight="bold" font-size="15" fill="#000" stroke="#000" stroke-width="0.35">H</text>
<rect x="515.65" y="296.25" width="18.7" height="18.7" fill="#fff" stroke="#111" stroke-width="1.3"/>
<text x="525" y="310.70000000000005" text-anchor="middle" font-family="Liberation Sans" font-weight="bold" font-size="15" fill="#000" stroke="#000" stroke-width="0.35">I</text>
<rect x="564.65" y="296.25" width="18.7" height="18.7" fill="#fff" stroke="#111" stroke-width="1.3"/>
<text x="574" y="310.70000000000005" text-anchor="middle" font-family="Liberation Sans" font-weight="bold" font-size="15" fill="#000" stroke="#000" stroke-width="0.35">J</text>
<rect x="586.05" y="296.25" width="18.7" height="18.7" fill="#fff" stroke="#111" stroke-width="1.3"/>
<text x="595.4" y="310.70000000000005" text-anchor="middle" font-family="Liberation Sans" font-weight="bold" font-size="15" fill="#000" stroke="#000" stroke-width="0.35">D</text>
<rect x="615.65" y="296.25" width="18.7" height="18.7" fill="#fff" stroke="#111" stroke-width="1.3"/>
<text x="625" y="310.70000000000005" text-anchor="middle" font-family="Liberation Sans" font-weight="bold" font-size="15" fill="#000" stroke="#000" stroke-width="0.35">E</text>
<rect x="637.65" y="296.25" width="18.7" height="18.7" fill="#fff" stroke="#111" stroke-width="1.3"/>
<text x="647" y="310.70000000000005" text-anchor="middle" font-family="Liberation Sans" font-weight="bold" font-size="15" fill="#000" stroke="#000" stroke-width="0.35">H</text>
<rect x="658.9499999999999" y="296.25" width="18.7" height="18.7" fill="#fff" stroke="#111" stroke-width="1.3"/>
<text x="668.3" y="310.70000000000005" text-anchor="middle" font-family="Liberation Sans" font-weight="bold" font-size="15" fill="#000" stroke="#000" stroke-width="0.35">J</text>
<rect x="364.34999999999997" y="611.9499999999999" width="18.7" height="18.7" fill="#fff" stroke="#111" stroke-width="1.3"/>
<text x="373.7" y="626.4" text-anchor="middle" font-family="Liberation Sans" font-weight="bold" font-size="15" fill="#000" stroke="#000" stroke-width="0.35">O</text>
<rect x="407.65" y="611.9499999999999" width="18.7" height="18.7" fill="#fff" stroke="#111" stroke-width="1.3"/>
<text x="417" y="626.4" text-anchor="middle" font-family="Liberation Sans" font-weight="bold" font-size="15" fill="#000" stroke="#000" stroke-width="0.35">N</text>
<rect x="442.65" y="611.9499999999999" width="18.7" height="18.7" fill="#fff" stroke="#111" stroke-width="1.3"/>
<text x="452" y="626.4" text-anchor="middle" font-family="Liberation Sans" font-weight="bold" font-size="15" fill="#000" stroke="#000" stroke-width="0.35">M</text>
<rect x="473.65" y="611.9499999999999" width="18.7" height="18.7" fill="#fff" stroke="#111" stroke-width="1.3"/>
<text x="483" y="626.4" text-anchor="middle" font-family="Liberation Sans" font-weight="bold" font-size="15" fill="#000" stroke="#000" stroke-width="0.35">L</text>
<rect x="503.95" y="611.9499999999999" width="18.7" height="18.7" fill="#fff" stroke="#111" stroke-width="1.3"/>
<text x="513.3" y="626.4" text-anchor="middle" font-family="Liberation Sans" font-weight="bold" font-size="15" fill="#000" stroke="#000" stroke-width="0.35">K</text>
<rect x="569.85" y="611.9499999999999" width="18.7" height="18.7" fill="#fff" stroke="#111" stroke-width="1.3"/>
<text x="579.2" y="626.4" text-anchor="middle" font-family="Liberation Sans" font-weight="bold" font-size="15" fill="#000" stroke="#000" stroke-width="0.35">F</text>
<rect x="591.85" y="611.9499999999999" width="18.7" height="18.7" fill="#fff" stroke="#111" stroke-width="1.3"/>
<text x="601.2" y="626.4" text-anchor="middle" font-family="Liberation Sans" font-weight="bold" font-size="15" fill="#000" stroke="#000" stroke-width="0.35">G</text>
<rect x="619.85" y="611.9499999999999" width="18.7" height="18.7" fill="#fff" stroke="#111" stroke-width="1.3"/>
<text x="629.2" y="626.4" text-anchor="middle" font-family="Liberation Sans" font-weight="bold" font-size="15" fill="#000" stroke="#000" stroke-width="0.35">I</text>
</svg>
<div class="lb" style="top:647.10px">A</div><div class="it" style="top:646.70px">Etutörmäystunnistimet</div><div class="lb" style="top:678.81px">B</div><div class="it" style="top:678.41px">Turvatyynyn ON-OFF-katkaisin</div><div class="lb" style="top:710.52px">C</div><div class="it" style="top:710.12px">Etumatkustajan turvatyyny</div><div class="lb" style="top:742.23px">D</div><div class="it" style="top:741.83px">Sivutörmäystunnistimet (etuovi)</div><div class="lb" style="top:773.94px">E</div><div class="it" style="top:773.54px">Ikkunaturvatyynyt</div><div class="lb" style="top:805.65px">F</div><div class="it" style="top:805.25px">Turvavöiden kiristimet ja voimanrajoittimet (etuistuimet)</div><div class="lb" style="top:837.36px">G</div><div class="it" style="top:836.96px">Sivutörmäystunnistimet (edessä)</div><div class="lb" style="top:869.07px">H</div><div class="it" style="top:868.67px">Sivuturvatyynyt</div><div class="lb" style="top:900.78px">I</div><div class="it" style="top:900.38px">Sivutörmäystunnistimet (takana)</div><div class="lb" style="top:932.49px">J</div><div class="it" style="top:932.09px">Turvavöiden kiristimet ja voimanrajoittimet (takaistuimen reunapaikat)</div><div class="lb" style="top:964.20px">K</div><div class="it" style="top:963.80px">Kuljettajan turvatyyny</div><div class="lb" style="top:995.91px">L</div><div class="it" style="top:995.51px">Polviturvatyyny</div><div class="lb" style="top:1027.62px">M</div><div class="it" style="top:1027.22px">SRS-varoitusvalo</div><div class="lb" style="top:1059.33px">N</div><div class="it" style="top:1058.93px">Turvatyynyjen ohjausyksikkö</div><div class="lb" style="top:1091.04px">O</div><div class="it" style="top:1090.64px">PASSENGER AIR BAG -merkkivalo</div>
<div class="a" style="left:678.6px;top:1325.6px;font-size:27.25px;line-height:30px;color:#8c8c8c;">carmanualsonline.info</div>
</body></html>
